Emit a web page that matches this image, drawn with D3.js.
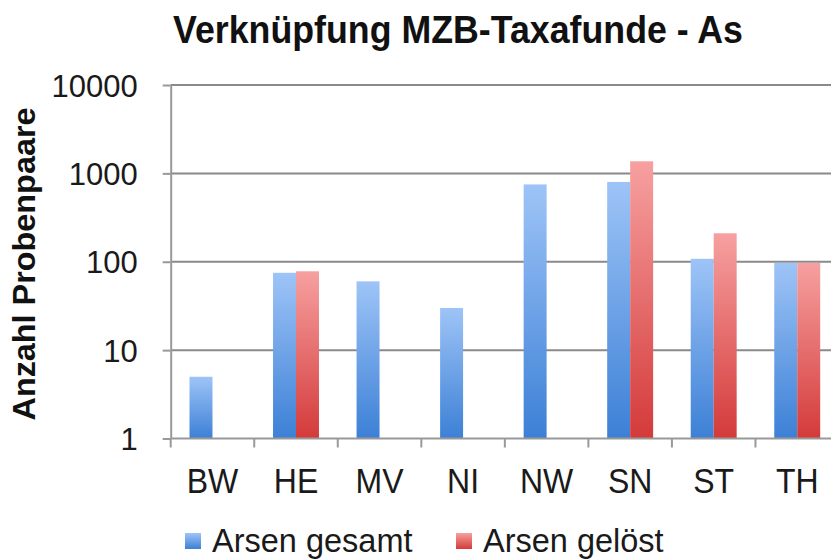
<!DOCTYPE html>
<html>
<head>
<meta charset="utf-8">
<script src="https://cdn.jsdelivr.net/npm/d3@7"></script>
<style>
  html, body { margin: 0; padding: 0; background: #fff; }
  svg { display: block; font-family: "Liberation Sans", Arial, sans-serif; }
</style>
</head>
<body>
<svg id="chart" width="831" height="559"></svg>
<script>
const categories = ["BW", "HE", "MV", "NI", "NW", "SN", "ST", "TH"];
const seriesNames = ["Arsen gesamt", "Arsen gelöst"];
const arsenGesamt = [5, 75, 60, 30, 750, 800, 108, 97];
const arsenGeloest = [null, 78, null, null, null, 1370, 210, 97];
const yTickValues = [1, 10, 100, 1000, 10000];
const titleText = "Verknüpfung MZB-Taxafunde - As";
const yTitle = "Anzahl Probenpaare";

(function () {
const svg = d3.select("#chart");
const W = 831, H = 559;
const mLeft = 170.7, mRight = 839, mTop = 85, mBottom = 438.5;

const defs = svg.append("defs");
function grad(id, c1, c2) {
  const g = defs.append("linearGradient").attr("id", id)
    .attr("x1", 0).attr("y1", 0).attr("x2", 0).attr("y2", 1);
  g.append("stop").attr("offset", "0%").attr("stop-color", c1);
  g.append("stop").attr("offset", "100%").attr("stop-color", c2);
}
grad("gBlue", "#9ec4f7", "#3c80d6");
grad("gRed", "#f7a0a0", "#d43a3a");
const fills = ["url(#gBlue)", "url(#gRed)"];

const x = d3.scaleBand().domain(categories).range([mLeft, mRight]).padding(0);
const y = d3.scaleLog().domain([1, 10000]).range([mBottom, mTop]);

// gridlines
svg.append("g").selectAll("line").data(yTickValues.slice(1)).join("line")
  .attr("x1", mLeft).attr("x2", W)
  .attr("y1", d => y(d)).attr("y2", d => y(d))
  .attr("stroke", "#8a8a8a").attr("stroke-width", 2);

// bars
const bw = x.bandwidth();
const inner = d3.scaleBand().domain([0, 1]).range([bw * 0.225, bw * 0.775]).padding(0);
const series = [arsenGesamt, arsenGeloest];
series.forEach((vals, si) => {
  svg.append("g").selectAll("rect")
    .data(categories.map((c, i) => ({ c, v: vals[i] })).filter(d => d.v != null))
    .join("rect")
    .attr("x", d => x(d.c) + inner(si))
    .attr("width", inner.bandwidth())
    .attr("y", d => y(d.v))
    .attr("height", d => y(1) - y(d.v))
    .attr("fill", fills[si]);
});

// y axis
const yAxis = svg.append("g").attr("transform", `translate(${mLeft},0)`)
  .call(d3.axisLeft(y).tickValues(yTickValues).tickFormat(d3.format("d"))
    .tickSize(8).tickSizeOuter(0).tickPadding(25));
yAxis.select(".domain").attr("stroke", "#999").attr("stroke-width", 2);
yAxis.selectAll(".tick line").attr("stroke", "#999").attr("stroke-width", 2);
yAxis.selectAll(".tick text").attr("font-size", 31).attr("fill", "#1a1a1a")
  .attr("font-family", "Liberation Sans, Arial, sans-serif").attr("dy", "0.36em");

// x axis baseline
svg.append("line").attr("x1", mLeft).attr("x2", W).attr("y1", mBottom).attr("y2", mBottom)
  .attr("stroke", "#999").attr("stroke-width", 2);
const bounds = categories.map(c => x(c)).concat([x.range()[1]]);
svg.append("g").selectAll("line").data(bounds).join("line")
  .attr("x1", d => d).attr("x2", d => d)
  .attr("y1", mBottom).attr("y2", mBottom + 9)
  .attr("stroke", "#999").attr("stroke-width", 2);
svg.append("g").selectAll("text").data(categories).join("text")
  .attr("transform", d => `translate(${x(d) + bw / 2},493) scale(1,1.08)`)
  .attr("text-anchor", "middle").attr("font-size", 32).attr("fill", "#1a1a1a")
  .text(d => d);

// title
svg.append("text").attr("transform", "translate(458,43) scale(1,1.1)")
  .attr("text-anchor", "middle")
  .attr("font-size", 35).attr("font-weight", "bold").attr("fill", "#111")
  .attr("textLength", 570).attr("lengthAdjust", "spacingAndGlyphs")
  .text(titleText);

// y title
svg.append("text").attr("transform", "translate(35,264) rotate(-90)")
  .attr("text-anchor", "middle").attr("font-size", 31).attr("font-weight", "bold")
  .attr("fill", "#111").attr("textLength", 313).attr("lengthAdjust", "spacingAndGlyphs")
  .text(yTitle);

// legend
const legendX = [185, 456];
const lg = svg.append("g").selectAll("g").data(seriesNames).join("g")
  .attr("transform", (d, i) => `translate(${legendX[i]},0)`);
lg.append("rect").attr("x", 0).attr("y", 533).attr("width", 16).attr("height", 16)
  .attr("fill", (d, i) => fills[i]);
lg.append("text").attr("x", 27).attr("y", 552).attr("font-size", 32.5).attr("fill", "#1a1a1a")
  .text(d => d);
})();
</script>
</body>
</html>
